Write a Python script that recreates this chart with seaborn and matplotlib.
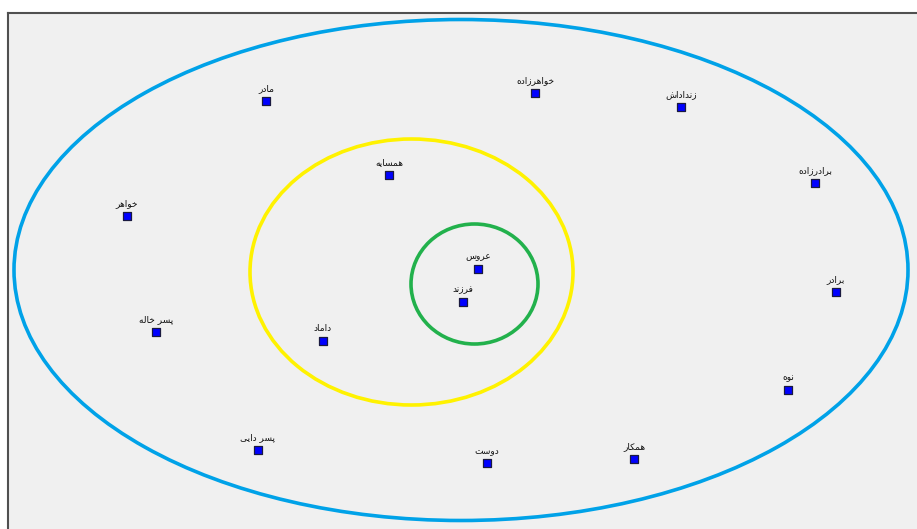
import matplotlib
matplotlib.use("Agg")
import matplotlib.pyplot as plt
from matplotlib.patches import Ellipse
import seaborn as sns
import pandas as pd

# ---- data (pixel positions) ----
labels = ["مادر", "خواهرزاده", "زنداداش", "همسایه", "برادرزاده", "خواهر", "عروس", "فرزند",
          "برادر", "داماد", "پسر خاله", "نوه", "پسر دایی", "دوست", "همکار"]
xs = [266, 535, 681, 389, 815, 127, 478, 463, 836, 323, 156, 788, 258, 487, 634]
ys = [101, 93, 107, 175, 183, 216, 269, 302, 292, 341, 332, 390, 450, 463, 459]

ring_cx = [461, 411.5, 474.5]
ring_cy = [270, 272, 284]
ring_w = [894, 323, 127]
ring_h = [501, 266, 120]
ring_colors = ["#00a2e8", "#fff200", "#22b14c"]

# ---- minimal Arabic/Persian shaping (presentation forms) ----
FORMS = {
    "ا": ("\uFE8D", "\uFE8E", None, None),
    "ب": ("\uFE8F", "\uFE90", "\uFE91", "\uFE92"),
    "ت": ("\uFE95", "\uFE96", "\uFE97", "\uFE98"),
    "خ": ("\uFEA5", "\uFEA6", "\uFEA7", "\uFEA8"),
    "د": ("\uFEA9", "\uFEAA", None, None),
    "ر": ("\uFEAD", "\uFEAE", None, None),
    "ز": ("\uFEAF", "\uFEB0", None, None),
    "س": ("\uFEB1", "\uFEB2", "\uFEB3", "\uFEB4"),
    "ش": ("\uFEB5", "\uFEB6", "\uFEB7", "\uFEB8"),
    "ع": ("\uFEC9", "\uFECA", "\uFECB", "\uFECC"),
    "ف": ("\uFED1", "\uFED2", "\uFED3", "\uFED4"),
    "ل": ("\uFEDD", "\uFEDE", "\uFEDF", "\uFEE0"),
    "م": ("\uFEE1", "\uFEE2", "\uFEE3", "\uFEE4"),
    "ن": ("\uFEE5", "\uFEE6", "\uFEE7", "\uFEE8"),
    "ه": ("\uFEE9", "\uFEEA", "\uFEEB", "\uFEEC"),
    "و": ("\uFEED", "\uFEEE", None, None),
    "پ": ("\uFB56", "\uFB57", "\uFB58", "\uFB59"),
    "ک": ("\uFB8E", "\uFB8F", "\uFB90", "\uFB91"),
    "ی": ("\uFBFC", "\uFBFD", "\uFBFE", "\uFBFF"),
}


def dual(c):
    return c in FORMS and FORMS[c][2] is not None


def shape(word):
    out = []
    n = len(word)
    for i, c in enumerate(word):
        if c not in FORMS:
            out.append(c)
            continue
        prev_join = i > 0 and dual(word[i - 1])
        next_join = i < n - 1 and dual(c) and word[i + 1] in FORMS
        iso, fin, ini, med = FORMS[c]
        if prev_join and next_join:
            out.append(med)
        elif prev_join:
            out.append(fin)
        elif next_join:
            out.append(ini)
        else:
            out.append(iso)
    return "".join(out)[::-1]


df = pd.DataFrame({"x": xs, "y": ys, "label": labels})

sns.set_style("white", {"axes.facecolor": "#f0f0f0"})
plt.rcParams["font.family"] = ["DejaVu Sans"]

fig = plt.figure(figsize=(9.17, 5.29), dpi=100)
fig.patch.set_facecolor("white")
ax = fig.add_axes([8 / 917, 0, 909 / 917, (529 - 13) / 529])
ax.set_facecolor("#f0f0f0")

for cx, cy, w, h, col in zip(ring_cx, ring_cy, ring_w, ring_h, ring_colors):
    ax.add_patch(Ellipse((cx, cy), w, h, fill=False, edgecolor=col, linewidth=2.6, zorder=2))

sns.scatterplot(data=df, x="x", y="y", ax=ax, marker="s", s=40, color="#0000ff",
                edgecolor="#1a1a40", linewidth=0.9, zorder=3, legend=False)

for lx, ly, t in zip(df["x"], df["y"], df["label"]):
    ax.annotate(shape(t), (lx, ly), xytext=(0, 6), textcoords="offset points",
                ha="center", va="bottom", fontsize=6.5, color="#111111", zorder=4)

ax.set_xlim(8, 917)
ax.set_ylim(529, 13)
ax.set_xticks([])
ax.set_yticks([])
ax.set_xlabel("")
ax.set_ylabel("")
for s in ["right", "bottom"]:
    ax.spines[s].set_visible(False)
for s in ["top", "left"]:
    ax.spines[s].set_color("#505050")
    ax.spines[s].set_linewidth(1.5)

fig.savefig("out.png", dpi=100, facecolor="white")
